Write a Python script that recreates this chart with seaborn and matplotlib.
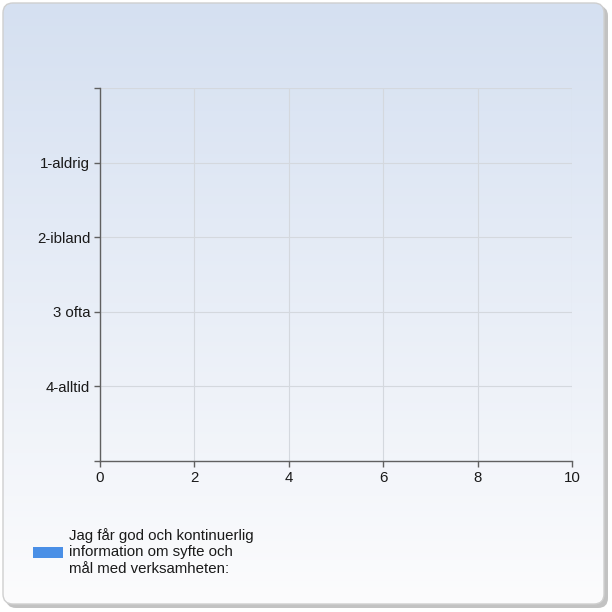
#horizontal bar chart of survey answers (all zero)

import numpy as np
import pandas as pd
import matplotlib
matplotlib.use('Agg')
import matplotlib.pyplot as plt
from matplotlib.patches import FancyBboxPatch
import seaborn as sns

categories=['1-aldrig','2-ibland','3 ofta','4-alltid']
values=[0,0,0,0]
series_name='Jag får god och kontinuerlig\ninformation om syfte och\nmål med verksamheten:'
x_ticks=[0,2,4,6,8,10]

def draw_background(fig):
    bg=fig.add_axes([0,0,1,1],zorder=-10)
    bg.set_xlim(0,612)
    bg.set_ylim(612,0)
    bg.axis('off')
    shadow=FancyBboxPatch((6,6),602,602,boxstyle='round,pad=0,rounding_size=10',
                          facecolor='#9a9a9a',edgecolor='none',alpha=0.6,zorder=0)
    bg.add_patch(shadow)
    base=FancyBboxPatch((3,3),601,601,boxstyle='round,pad=0,rounding_size=10',
                        facecolor='white',edgecolor='none',zorder=1)
    bg.add_patch(base)
    top=np.array([213,224,241])/255
    bottom=np.array([252,252,253])/255
    t=np.linspace(0,1,256)[:,None]
    grad=(top*(1-t)+bottom*t)[:,None,:]
    im=bg.imshow(grad,extent=[3,604,604,3],aspect='auto',zorder=2)
    im.set_clip_path(base)
    frame=FancyBboxPatch((3,3),601,601,boxstyle='round,pad=0,rounding_size=10',
                         facecolor='none',edgecolor='#cfcfcf',linewidth=1,zorder=3)
    bg.add_patch(frame)

def main():
    sns.set_theme(style='white')
    plt.rcParams['font.family']=['Liberation Sans','DejaVu Sans']
    fig=plt.figure(figsize=(6.12,6.12),dpi=100)
    fig.patch.set_facecolor('white')
    draw_background(fig)

    ax=fig.add_axes([100/612,1-461/612,472/612,373/612])
    ax.patch.set_alpha(0)
    df=pd.DataFrame({'answer':categories,'count':values})
    sns.barplot(data=df,x='count',y='answer',orient='h',color='#4a8fe6',
                saturation=1,linewidth=0,label=series_name,legend=False,ax=ax)
    if ax.get_legend() is not None:
        ax.get_legend().remove()

    ax.set_xlim(0,10)
    ax.set_ylim(len(categories),-1)
    ax.set_xticks(x_ticks)
    ax.set_xticklabels([str(v) for v in x_ticks])
    ax.set_yticks(range(-1,len(categories)+1))
    ax.set_yticklabels(['']+categories+[''])
    ax.set_xlabel('')
    ax.set_ylabel('')
    ax.grid(True,color='#d4d8de',linewidth=0.8)
    ax.set_axisbelow(True)
    for side in ['top','right']:
        ax.spines[side].set_visible(False)
    for side in ['left','bottom']:
        ax.spines[side].set_color('#606060')
        ax.spines[side].set_linewidth(1.0)
    ax.tick_params(axis='both',which='major',length=4,width=1,color='#606060',
                   labelsize=10.8,labelcolor='#1a1a1a',direction='out',
                   left=True,bottom=True,pad=3)

    handles,labels=ax.get_legend_handles_labels()
    leg=fig.legend(handles,labels,loc='center left',bbox_to_anchor=(33/612,1-552/612),
                   frameon=False,fontsize=10.8,handlelength=2.0,handleheight=0.8,
                   handletextpad=0.4,borderaxespad=0,borderpad=0)
    for txt in leg.get_texts():
        txt.set_color('#1a1a1a')

    fig.savefig('out.png',dpi=100,facecolor='white')
    plt.close(fig)

if __name__ == '__main__':
    main()
